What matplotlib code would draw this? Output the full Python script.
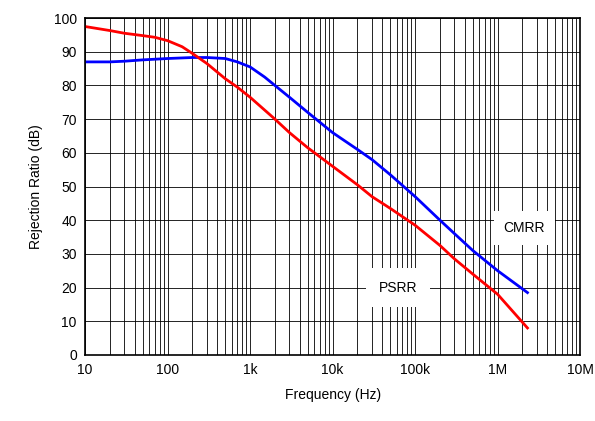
import matplotlib
matplotlib.use("Agg")
import matplotlib.pyplot as plt
from matplotlib.ticker import LogLocator, FixedLocator, NullFormatter

plt.rcParams['font.family'] = ['Liberation Sans', 'DejaVu Sans']

cmrr_f = [10, 20, 30, 50, 100, 200, 300, 500, 700, 1e3, 1.5e3, 2e3, 3e3, 5e3, 1e4, 2e4, 3e4, 5e4, 1e5, 2e5, 3e5, 5e5, 1e6, 2.3e6]
cmrr_db = [87, 87, 87.2, 87.6, 88, 88.3, 88.3, 88, 87, 85.5, 82.5, 80, 76.5, 72, 66, 61, 58, 53.5, 47, 40, 36, 31, 25, 18.5]
psrr_f = [10, 20, 30, 50, 70, 100, 150, 200, 300, 500, 700, 1e3, 2e3, 3e3, 5e3, 1e4, 2e4, 3e4, 5e4, 1e5, 2e5, 3e5, 5e5, 1e6, 2.3e6]
psrr_db = [97.5, 96.3, 95.5, 94.8, 94.3, 93.3, 91.5, 89.5, 86.5, 82, 79.5, 76.5, 70, 66, 61.5, 56, 50.5, 47, 43.5, 38.5, 32.5, 28.5, 24, 18, 8]
xticks = [10, 100, 1e3, 1e4, 1e5, 1e6, 1e7]
xlabels = ['10', '100', '1k', '10k', '100k', '1M', '10M']

fig = plt.figure(figsize=(5.95, 4.21), dpi=100)
ax = fig.add_axes([0.143, 0.157, 0.832, 0.8])
ax.set_xscale('log')
ax.set_xlim(10, 1e7)
ax.set_ylim(0, 100)
ax.xaxis.set_major_locator(FixedLocator(xticks))
ax.set_xticklabels(xlabels)
ax.xaxis.set_minor_locator(LogLocator(base=10, subs=range(2, 10), numticks=20))
ax.xaxis.set_minor_formatter(NullFormatter())
ax.set_yticks(range(0, 101, 10))
ax.grid(True, which='both', color='black', linewidth=0.6)
ax.tick_params(which='both', length=0, labelsize=10, pad=6)
for s in ax.spines.values():
    s.set_linewidth(1.2)

ax.plot(cmrr_f, cmrr_db, color='#0000ff', linewidth=2)
ax.plot(psrr_f, psrr_db, color='#ff0000', linewidth=2)

ax.text(2.1e6, 37.7, 'CMRR', fontsize=10, ha='center', va='center',
        bbox=dict(facecolor='white', edgecolor='none', boxstyle='square,pad=0.7'))
ax.text(6.2e4, 20, 'PSRR', fontsize=10, ha='center', va='center',
        bbox=dict(facecolor='white', edgecolor='none', boxstyle='square,pad=0.9'))

ax.set_xlabel('Frequency (Hz)', fontsize=10, labelpad=8)
ax.set_ylabel('Rejection Ratio (dB)', fontsize=10, labelpad=8)

fig.savefig('out.png', dpi=100)
